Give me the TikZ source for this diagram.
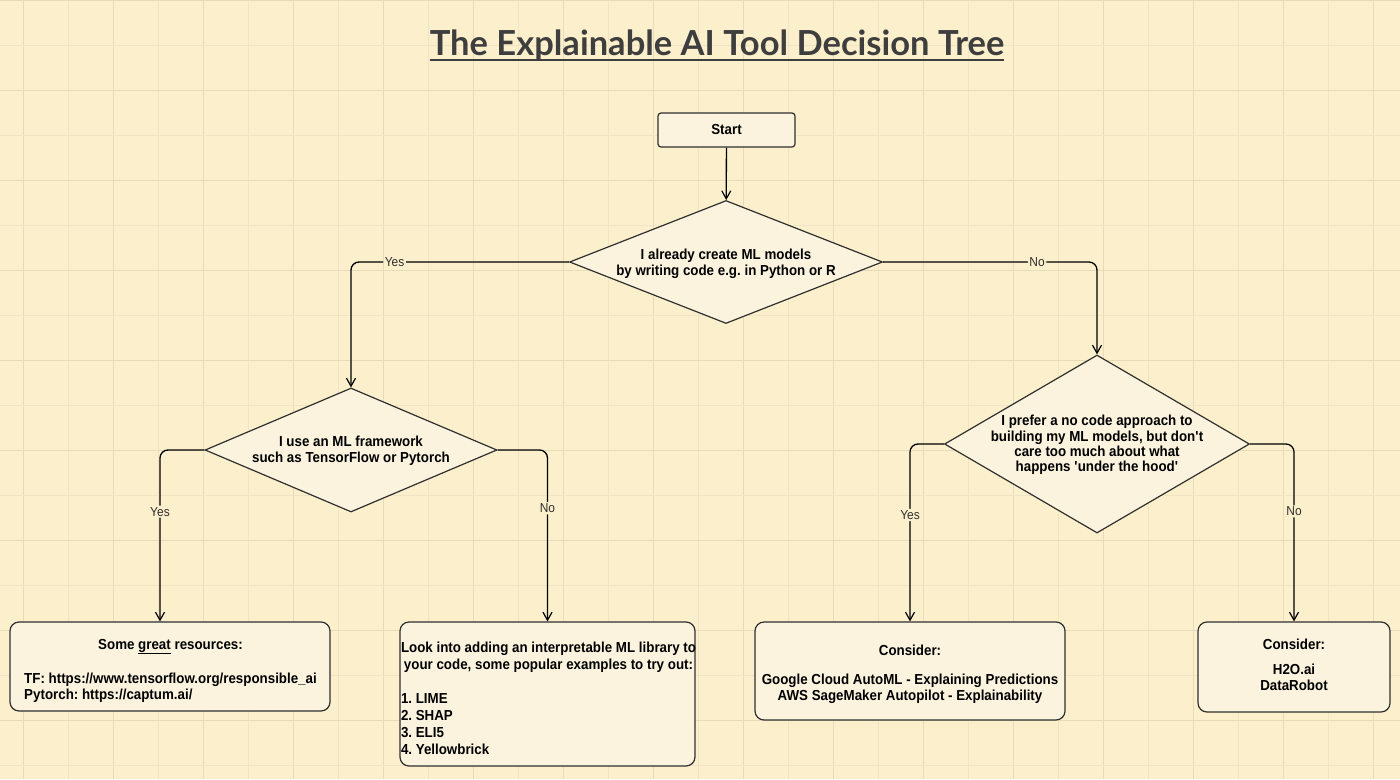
\documentclass[tikz,border=0pt]{standalone}
\usepackage{fontspec}
\setmainfont{Liberation Sans}[FakeStretch=0.92]
\newfontfamily\titlefont{Lato}
\usetikzlibrary{shapes.geometric,arrows.meta}
\definecolor{bg}{HTML}{FCEFCB}
\definecolor{gridA}{HTML}{E8DBBA}
\definecolor{gridB}{HTML}{F0E4C4}
\definecolor{boxfill}{HTML}{FBF3DE}
\definecolor{ink}{HTML}{2F2F2F}
\definecolor{titleink}{HTML}{3E3E3E}
\begin{document}
\frenchspacing
\begin{tikzpicture}[x=1pt,y=-1pt,
  bodyfont/.style={font=\bfseries\fontsize{14.5}{16}\selectfont},
  box/.style={draw=ink, line width=1.2pt, rounded corners=9pt, fill=boxfill, inner sep=0pt},
  boxtext/.style={bodyfont, text=black, inner sep=0pt},
  decision/.style={diamond, draw=ink, line width=1.2pt, fill=boxfill, inner sep=0pt},
  conn/.style={draw=black, line width=1.3pt, rounded corners=8pt, -{Straight Barb[length=8pt,width=9pt,line width=1.2pt]}},
  lbl/.style={font=\fontsize{13}{15}\selectfont, fill=bg, inner sep=1.5pt, text=ink}]
\useasboundingbox (0,0) rectangle (1400,779);
\fill[bg] (0,0) rectangle (1400,779);
% grid
\foreach \x in {23,113,...,1400} \draw[gridA, line width=0.8pt] (\x,0) -- (\x,779);
\foreach \x in {68,158,...,1400} \draw[gridB, line width=0.8pt] (\x,0) -- (\x,779);
\foreach \y in {0,90,...,779} \draw[gridA, line width=0.8pt] (0,\y) -- (1400,\y);
\foreach \y in {45,135,...,779} \draw[gridB, line width=0.8pt] (0,\y) -- (1400,\y);

% title
\node[inner sep=0pt, anchor=base, text=titleink, font=\titlefont\bfseries\fontsize{34.5}{40}\selectfont] (title) at (717,55) {The Explainable AI Tool Decision Tree};
\draw[titleink, line width=2.2pt] ([yshift=-5pt]title.base west) -- ([yshift=-5pt]title.base east);

% start
\node[box, rounded corners=3pt, minimum width=137pt, minimum height=34pt, boxtext] (start) at (726.5,130) {Start};

% decisions
\node[decision, minimum width=313pt, minimum height=123pt] (d1) at (726,262) {};
\node[boxtext, align=center] (d1t) at (726,264) {I already create ML models\\by writing code e.g. in Python or R};

\node[decision, minimum width=292pt, minimum height=124pt] (d2) at (351,450) {};
\node[boxtext, align=center] (d2t) at (351,451) {I use an ML framework\\such as TensorFlow or Pytorch};

\node[decision, minimum width=305pt, minimum height=178pt] (d3) at (1097,444) {};
\node[boxtext, align=center, font=\bfseries\fontsize{14.5}{15.4}\selectfont] (d3t) at (1097,445) {I prefer a no code approach to\\building my ML models, but don\textquotesingle t\\care too much about what\\happens \textquotesingle under the hood\textquotesingle};

% result boxes
\node[box, minimum width=320pt, minimum height=89pt] (ba) at (170,666.5) {};
\node[boxtext] (bat) at (170.5,671) {\begin{tabular}{@{}l@{}}\multicolumn{1}{@{}c@{}}{Some \underline{great} resources:}\\[18pt]TF: https://www.tensorflow.org/responsible\_ai\\Pytorch: https://captum.ai/\end{tabular}};

\node[box, minimum width=295pt, minimum height=144pt] (bb) at (547.5,694) {};
\node[boxtext, font=\bfseries\fontsize{14.5}{17}\selectfont] (bbt) at (548.5,700) {\begin{tabular}{@{}l@{}}\multicolumn{1}{@{}c@{}}{Look into adding an interpretable ML library to}\\\multicolumn{1}{@{}c@{}}{your code, some popular examples to try out:}\\[17pt]1. LIME\\2. SHAP\\3. ELI5\\4. Yellowbrick\end{tabular}};

\node[box, minimum width=310pt, minimum height=98pt] (bc) at (910,671) {};
\node[boxtext, align=center] (bct) at (910,674.5) {Consider:\\[13pt]Google Cloud AutoML - Explaining Predictions\\AWS SageMaker Autopilot - Explainability};

\node[box, minimum width=192pt, minimum height=90pt] (bd) at (1294,667) {};
\node[boxtext, align=center, font=\bfseries\fontsize{14.5}{16.5}\selectfont] (bdt) at (1294,665) {Consider:\\[8pt]H2O.ai\\DataRobot};

% connectors
\draw[conn] (start) -- (d1);
\draw[conn] (d1.west) -| node[lbl, pos=0.4] {Yes} (d2.north);
\draw[conn] (d1.east) -| node[lbl, pos=0.36] {No} (d3.north);
\draw[conn] (d2.west) -| node[lbl, pos=0.68] {Yes} ([xshift=-10pt]ba.north);
\draw[conn] (d2.east) -| node[lbl, pos=0.67] {No} (bb.north);
\draw[conn] (d3.west) -| node[lbl, pos=0.7] {Yes} (bc.north);
\draw[conn] (d3.east) -| node[lbl, pos=0.69] {No} (bd.north);
\end{tikzpicture}
\end{document}
